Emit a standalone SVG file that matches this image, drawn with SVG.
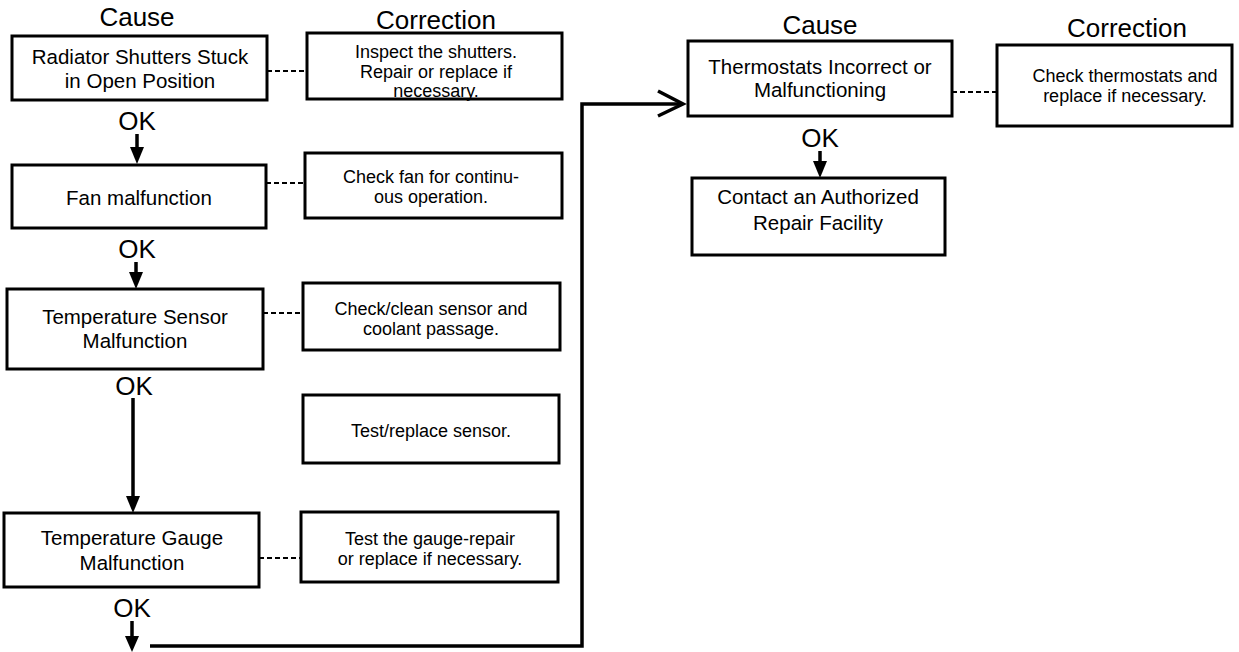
<svg xmlns="http://www.w3.org/2000/svg" width="1239" height="652" viewBox="0 0 1239 652">
<style>
text{font-family:"Liberation Sans",Arial,sans-serif;fill:#000;text-anchor:middle}
.h{font-size:26px}
.c{font-size:20.5px}
.r{font-size:18px}
.ok{font-size:26px}
.box{fill:#fff;stroke:#000;stroke-width:3}
.dash{stroke:#000;stroke-width:2;stroke-dasharray:5 3;fill:none}
.flow{stroke:#000;stroke-width:3.5;fill:none}
</style>
<defs>
<marker id="ah" markerWidth="14" markerHeight="17" refX="7" refY="17" orient="0" markerUnits="userSpaceOnUse">
<path d="M0,0 L14,0 L7,17 Z" fill="#000"/>
</marker>
</defs>
<rect width="1239" height="652" fill="#fff"/>
<g id="headings">
<text class="h" x="137" y="26">Cause</text>
<text class="h" x="436" y="29">Correction</text>
<text class="h" x="820" y="34">Cause</text>
<text class="h" x="1127" y="37">Correction</text>
</g>
<g id="connectors">
<line class="dash" x1="267" y1="71" x2="307" y2="71"/>
<line class="dash" x1="266" y1="183" x2="305" y2="183"/>
<line class="dash" x1="263" y1="313" x2="303" y2="313"/>
<line class="dash" x1="259" y1="558" x2="301" y2="558"/>
<line class="dash" x1="952" y1="92" x2="997" y2="92"/>
<line class="flow" x1="137" y1="134" x2="137" y2="150"/>
<path d="M130,147 L144,147 L137,164 Z"/>
<line class="flow" x1="136" y1="262" x2="136" y2="275"/>
<path d="M129,272 L143,272 L136,289 Z"/>
<line class="flow" x1="133" y1="398" x2="133" y2="500"/>
<path d="M126,496 L140,496 L133,513 Z"/>
<line class="flow" x1="132" y1="621" x2="132" y2="640"/>
<path d="M125,636 L139,636 L132,652 Z"/>
<line class="flow" x1="820" y1="151" x2="820" y2="164"/>
<path d="M813,161 L827,161 L820,178 Z"/>
<polyline class="flow" stroke-width="4" points="150,646 582,646 582,104 682,104"/>
<polyline class="flow" points="658,91 683,104 658,116"/>
</g>
<g id="cause1"><rect class="box" x="12" y="36" width="255" height="64"/>
<text class="c" x="140" y="64">Radiator Shutters Stuck</text>
<text class="c" x="140" y="88">in Open Position</text></g>
<g id="ok1"><text class="ok" x="137" y="130">OK</text></g>
<g id="cause2"><rect class="box" x="12" y="165" width="254" height="63"/>
<text class="c" x="139" y="205">Fan malfunction</text></g>
<g id="ok2"><text class="ok" x="137" y="258">OK</text></g>
<g id="cause3"><rect class="box" x="7" y="289" width="256" height="80"/>
<text class="c" x="135" y="324">Temperature Sensor</text>
<text class="c" x="135" y="348">Malfunction</text></g>
<g id="ok3"><text class="ok" x="134" y="395">OK</text></g>
<g id="cause4"><rect class="box" x="4" y="513" width="255" height="74"/>
<text class="c" x="132" y="545">Temperature Gauge</text>
<text class="c" x="132" y="570">Malfunction</text></g>
<g id="ok4"><text class="ok" x="132" y="617">OK</text></g>
<g id="corr1"><rect class="box" x="307" y="33" width="255" height="66"/>
<text class="r" x="436" y="58">Inspect the shutters.</text>
<text class="r" x="436" y="78">Repair or replace if</text>
<text class="r" x="436" y="97">necessary.</text></g>
<g id="corr2"><rect class="box" x="305" y="153" width="257" height="65"/>
<text class="r" x="431" y="183">Check fan for continu-</text>
<text class="r" x="431" y="203">ous operation.</text></g>
<g id="corr3"><rect class="box" x="303" y="283" width="257" height="67"/>
<text class="r" x="431" y="315">Check/clean sensor and</text>
<text class="r" x="431" y="335">coolant passage.</text></g>
<g id="corr3b"><rect class="box" x="303" y="395" width="256" height="68"/>
<text class="r" x="431" y="437">Test/replace sensor.</text></g>
<g id="corr4"><rect class="box" x="301" y="512" width="257" height="70"/>
<text class="r" x="430" y="545">Test the gauge-repair</text>
<text class="r" x="430" y="565">or replace if necessary.</text></g>
<g id="cause5"><rect class="box" x="688" y="41" width="264" height="75"/>
<text class="c" x="820" y="74">Thermostats Incorrect or</text>
<text class="c" x="820" y="97">Malfunctioning</text></g>
<g id="ok5"><text class="ok" x="820" y="147">OK</text></g>
<g id="cause6"><rect class="box" x="692" y="178" width="253" height="77"/>
<text class="c" x="818" y="204">Contact an Authorized</text>
<text class="c" x="818" y="230">Repair Facility</text></g>
<g id="corr5"><rect class="box" x="997" y="45" width="235" height="81"/>
<text class="r" x="1125" y="82">Check thermostats and</text>
<text class="r" x="1125" y="102">replace if necessary.</text></g>
</svg>
